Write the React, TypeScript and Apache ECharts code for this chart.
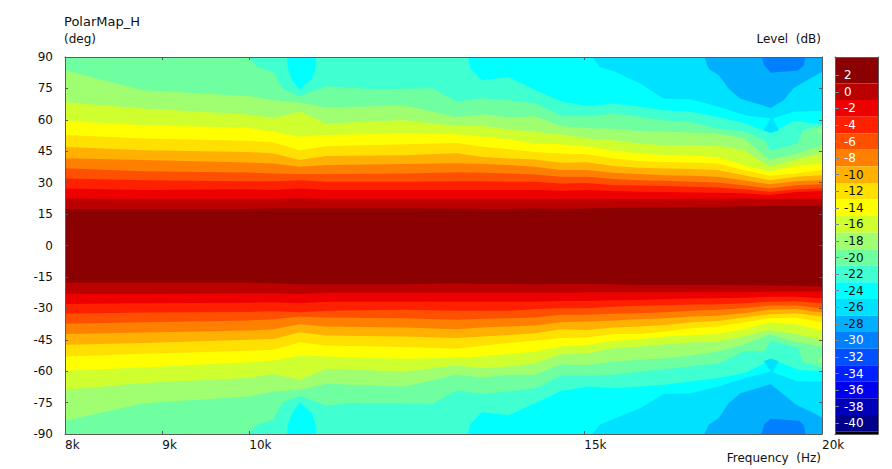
import React, { useEffect, useRef } from "react";
import * as echarts from "echarts";

const FONT = "DejaVu Sans";
const freqTicks = [8000, 9000, 10000, 15000, 20000];
const levelTicks = [2, 0, -2, -4, -6, -8, -10, -12, -14, -16, -18, -20, -22, -24, -26, -28, -30, -32, -34, -36, -38, -40];

// Frequencies (Hz) at which the contour curves were read
const freqCols = [8000, 8795, 9980, 10300, 10631, 10972, 12063, 12850, 13262, 13688, 14127, 14581, 15049, 15532, 16030, 16545, 17076, 17624, 18190, 18774, 19377, 20000];

// Angle of each level's contour, upper half (deg)
const upP1 = [17.4, 17.4, 17.4, 17.7, 17.7, 17.7, 17.7, 17.6, 17.4, 17.4, 17.7, 17.4, 17.7, 18, 18, 18.2, 18.4, 18.5, 18.7, 18.8, 18.8, 19];
const upM1 = [22.5, 22.2, 22.2, 22.2, 22.6, 22.2, 22.2, 22.2, 22.2, 22.2, 22.2, 22.2, 22.2, 22.2, 22.2, 22.2, 22.3, 22.3, 22.5, 22.2, 22.5, 22.2];
const upM3 = [27.2, 26.5, 26.8, 26.5, 27.2, 26.5, 26.5, 26.5, 26.5, 26.5, 26.5, 26.1, 26.5, 26, 25.7, 25.5, 25.3, 25.2, 24.9, 24.1, 25.5, 26];
const upM5 = [32, 31.1, 30.7, 30.7, 31.2, 30.4, 30.4, 30.7, 30.7, 30.4, 30.4, 29.6, 29.9, 28.8, 28.7, 28.4, 28, 27.7, 26.8, 25.7, 26.9, 27.2];
const upM7 = [36.9, 35.5, 34.9, 34.4, 34.1, 34.1, 34.4, 35, 34.7, 34.4, 33.9, 32.8, 32.8, 31.7, 31.2, 30.9, 30.4, 30.1, 28.8, 27.2, 28.8, 29.2];
const upM9 = [41.7, 40.8, 39.6, 39.2, 37.6, 38.4, 38.9, 39.3, 38.9, 38.4, 37.6, 36, 36, 34.7, 34.1, 33.6, 33.3, 32.8, 31.2, 29.2, 30.7, 31.2];
const upM11 = [47, 45.5, 44.7, 43.9, 40.8, 42.7, 43.1, 44.1, 42.3, 41.5, 41.1, 39.5, 39.8, 38, 37.1, 36.8, 36.5, 36, 33.6, 31.2, 32.8, 33.6];
const upM13 = [52.7, 51.1, 50, 49.2, 45.5, 47.4, 48.4, 48.9, 47.1, 46, 44.7, 43.9, 43.6, 41.5, 40.4, 39.9, 39.6, 39.2, 36, 33.3, 34.4, 36];
const upM15 = [59.4, 57.4, 56.2, 54.3, 51.9, 52.7, 53.6, 53.1, 51.9, 50.6, 48.7, 48.4, 47.1, 45.2, 43.9, 43.1, 42.8, 42.3, 38.4, 35.2, 37.9, 39.2];
const upM17 = [68.4, 65.4, 62.5, 60.9, 63.8, 58.2, 59.8, 57.1, 57, 55.4, 54.3, 53, 51.1, 50.3, 48.7, 47.9, 47.9, 47.6, 45.5, 37.6, 41.1, 43.9];
const upM19 = [83.5, 74.1, 71.4, 69.4, 68.1, 65.9, 66.8, 61.3, 62.7, 61.1, 61.7, 57.1, 56, 55.8, 54.7, 54.3, 53.9, 53.5, 51.1, 41.1, 43.6, 47.9];

// Angle of each level's contour, lower half (deg)
const loP1 = [-17.7, -17.7, -17.7, -18, -18.5, -18.5, -18.5, -18, -18.4, -18.4, -18.5, -18.4, -18.4, -18.5, -18.8, -18.8, -18.8, -18.8, -19, -19.1, -19.3, -19.6];
const loM1 = [-23.1, -23.1, -22.8, -22.8, -23.1, -22.5, -22.5, -22.5, -22.5, -22.5, -22.5, -22.5, -22.3, -22.3, -22.3, -22.3, -22.3, -22.3, -22.3, -22, -22, -22];
const loM3 = [-27.9, -27.6, -27.3, -27.1, -27.6, -26.8, -26.8, -26.8, -26.8, -26.8, -26.8, -26.5, -26.5, -26.1, -26, -25.7, -25.3, -25.2, -24.9, -24.5, -24.5, -25.2];
const loM5 = [-32.6, -32, -31.7, -31.4, -31.9, -31.2, -30.7, -31.1, -31.1, -31.1, -30.4, -30, -30, -29.3, -28.8, -28.5, -28.2, -28, -27.6, -26.8, -26.6, -27.6];
const loM7 = [-37.4, -36.6, -35.8, -35.2, -33.9, -34.4, -34.7, -35.5, -35, -34.7, -34.4, -33.1, -33.1, -32.6, -32.3, -31.9, -31.2, -30.7, -30, -28.7, -28.7, -30];
const loM9 = [-42.2, -41.5, -40.6, -40, -37.6, -38.7, -39.2, -40, -39.2, -38.7, -38.2, -36.6, -36.3, -35.8, -35.2, -34.7, -33.9, -33.6, -32.3, -30.7, -30.3, -32];
const loM11 = [-47.4, -46.6, -45, -44.6, -41.4, -43, -43.4, -44.2, -43.4, -42.7, -41.9, -40, -40.3, -39.2, -38.7, -37.9, -36.6, -36, -34.4, -32.8, -32.3, -33.9];
const loM13 = [-53, -51.7, -50.3, -49.8, -46.2, -47.7, -48.5, -49.3, -47.7, -46.6, -45.5, -44.2, -43.9, -42.2, -42.2, -41.1, -39.5, -38.7, -36.6, -34.7, -34.4, -36.6];
const loM15 = [-59.7, -58.2, -55.7, -54.9, -52.5, -53, -54.1, -53.5, -53, -51.7, -50.6, -48.2, -47.4, -45.5, -44.6, -43.4, -42.7, -42.2, -40, -36.6, -37.6, -40.6];
const loM17 = [-68.9, -65.7, -63.3, -61.3, -64.1, -58.9, -60.2, -57.3, -58.6, -57.8, -56.2, -51.9, -51.4, -49, -48.2, -47.1, -46.2, -45.9, -43.4, -40.3, -42.2, -45];
const loM19 = [-83.7, -75.3, -72.1, -69.7, -68.9, -66, -67.3, -61.7, -63, -61.7, -61.7, -56.7, -57, -55.4, -54.6, -53.8, -52.5, -50.6, -47.4, -42.4, -45.9, -48.2];

// Closed contours as [Hz, deg]
const plotCorners = [[8000, 90], [20000, 90], [20000, -90], [8000, -90]];
const contourM21 = [
  [8000, 90], [9993, 90], [10096, 85.2], [10298, 82.9], [10405, 74.9], [10510, 73.3], [10630, 71.3], [10978, 76], [11302, 75.2], [11697, 74.6], [12477, 75.1], [12860, 68.7], [13255, 70.3], [13689, 69.4], [14138, 67.8], [14602, 61.7], [15081, 61.7], [15543, 63], [16054, 61.4], [16513, 59.8], [17055, 59], [17650, 55.8], [18230, 54.3], [18654, 50.3], [18800, 45.2], [19421, 48.7], [19525, 54.3], [19562, 55], [20000, 57.4],
  [20000, -58.2], [19525, -55.4], [19445, -49], [18800, -45.5], [18654, -50.6], [18230, -50.3], [17650, -56.2], [17055, -57.8], [16054, -60.1], [15543, -61.7], [15081, -62.2], [14590, -62.2], [14138, -68.1], [13689, -69.7], [13255, -70.8], [12850, -69.4], [12477, -75.5], [11302, -75.2], [10978, -76.5], [10630, -71.9], [10510, -73.6], [10405, -75.2], [10298, -82.9], [10096, -85.6], [9993, -90], [8000, -90],
];
const cyanIslandTop = [[10469, 90], [10476, 84.4], [10532, 78.9], [10630, 74.4], [10790, 79.7], [10834, 84.4], [10840, 90]];
const cyanIslandBottom = [[10469, -90], [10476, -85.6], [10532, -80], [10630, -74.9], [10790, -80.3], [10834, -85.6], [10840, -90]];
const cyanTop = [[13032, 90], [13068, 84.4], [13255, 78.9], [13689, 80.5], [14138, 74.1], [14602, 68.6], [15081, 66.6], [15532, 67.8], [16054, 66.2], [16513, 64.6], [17055, 63.8], [17650, 61.4], [18230, 58.2], [18800, 53.5], [19327, 59.5], [20000, 57.9], [20000, 90]];
const cyanBottom = [[13032, -90], [13068, -85.2], [13255, -79.5], [13689, -81.1], [14138, -75.2], [14602, -69.4], [15081, -67.3], [15543, -68.1], [16054, -67.3], [16513, -66.5], [17055, -64.9], [17650, -63.3], [18230, -60.9], [18654, -56.2], [18800, -54.1], [19421, -59.3], [20000, -60.1], [20000, -90]];
const skyTop = [[15142, 90], [15282, 85.2], [15543, 83.2], [16054, 77.3], [16513, 70.1], [17055, 69.8], [17650, 66.2], [18230, 62.2], [18796, 60.6], [18637, 55], [18796, 53.8], [18979, 55], [18842, 60.6], [19327, 63.8], [20000, 64.3], [20000, 90]];
const skyBottom = [[15142, -90], [15282, -85.6], [15733, -80.8], [16054, -77.6], [16513, -70.9], [17055, -70.5], [17650, -67.3], [18230, -63.3], [18654, -60.9], [18796, -60.1], [18637, -55.1], [18796, -54.1], [18979, -55.1], [18842, -60.5], [19421, -64.9], [20000, -64.9], [20000, -90]];
const azureTop = [[17346, 90], [17437, 84.4], [17650, 81.3], [17864, 74.9], [18118, 70.1], [18796, 65.7], [19093, 69.4], [19327, 75.2], [19642, 78.9], [20000, 82.9], [20000, 90]];
const azureBottom = [[17346, -90], [17437, -85.6], [17650, -82.4], [17864, -75.2], [18118, -70.5], [18796, -66.2], [19100, -71.3], [19380, -76], [19720, -79.2], [20000, -82.1], [20000, -90]];
const blueTop = [[18585, 90], [18654, 86], [18796, 82.5], [19421, 83.6], [19562, 86], [19603, 90]];
const blueBottom = [[18585, -90], [18654, -85.2], [18800, -82.7], [19445, -83.7], [19562, -85.6], [19603, -90]];
const wedgeTop = [[19896, 54.7], [20000, 55.8], [20000, 52.7]];
const wedgeBottom = [[19896, -55.4], [20000, -53], [20000, -56.2]];

// Colour bar: band edges (dB), top to bottom, and one colour per band
const bandEdges = [4.2, 1, -1, -3, -5, -7, -9, -11, -13, -15, -17, -19, -21, -23, -25, -27, -29, -31, -33, -35, -37, -39, -41, -41.3];
const bandColors = ["#8b0000", "#bb0000", "#ee0000", "#ff2000", "#ff5000", "#ff8000", "#ffb000", "#ffe000", "#ffff00", "#d0ff30", "#a0ff70", "#70ffa0", "#40ffd0", "#00ffff", "#00e0ff", "#00b0ff", "#0080ff", "#0050ff", "#0020ff", "#0000ee", "#0000bb", "#00008b", "#000000"];

const lg = (f: number) => Math.log10(f);

function band(up: number[], lo: number[]) {
  const a = freqCols.map((f, i) => [f, up[i]]);
  const b = freqCols.map((f, i) => [f, lo[i]]).reverse();
  return [...a, ...b];
}

const shapes: { pts: number[][]; color: string }[] = [
  { pts: plotCorners, color: bandColors[12] },
  { pts: cyanIslandTop, color: bandColors[13] },
  { pts: cyanIslandBottom, color: bandColors[13] },
  { pts: cyanTop, color: bandColors[13] },
  { pts: cyanBottom, color: bandColors[13] },
  { pts: skyTop, color: bandColors[14] },
  { pts: skyBottom, color: bandColors[14] },
  { pts: azureTop, color: bandColors[15] },
  { pts: azureBottom, color: bandColors[15] },
  { pts: blueTop, color: bandColors[16] },
  { pts: blueBottom, color: bandColors[16] },
  { pts: contourM21, color: bandColors[11] },
  { pts: wedgeTop, color: bandColors[10] },
  { pts: wedgeBottom, color: bandColors[10] },
  { pts: band(upM19, loM19), color: bandColors[10] },
  { pts: band(upM17, loM17), color: bandColors[9] },
  { pts: band(upM15, loM15), color: bandColors[8] },
  { pts: band(upM13, loM13), color: bandColors[7] },
  { pts: band(upM11, loM11), color: bandColors[6] },
  { pts: band(upM9, loM9), color: bandColors[5] },
  { pts: band(upM7, loM7), color: bandColors[4] },
  { pts: band(upM5, loM5), color: bandColors[3] },
  { pts: band(upM3, loM3), color: bandColors[2] },
  { pts: band(upM1, loM1), color: bandColors[1] },
  { pts: band(upP1, loP1), color: bandColors[0] },
];

const frame = "#5a5a5a";
const textColor = "#111";
const frameLine = { show: true, onZero: false, lineStyle: { color: frame } };

export default function App() {
  const ref = useRef<HTMLDivElement>(null);
  useEffect(() => {
    document.body.style.margin = "0";
    document.body.style.background = "#fff";
    const chart = echarts.init(ref.current!, undefined, { renderer: "svg" });
    const xMin = lg(freqTicks[0]);
    const xMax = lg(freqTicks[freqTicks.length - 1]);
    const xLabel = {
      customValues: freqTicks.map(lg),
      formatter: (v: number) => Math.round(Math.pow(10, v) / 1000) + "k",
      align: "left" as const,
      color: textColor,
      fontFamily: FONT,
      fontSize: 12,
      margin: 5,
    };
    const tick = { show: true, inside: true, length: 3, lineStyle: { color: frame } };
    chart.setOption({
      animation: false,
      grid: [
        { left: 65, top: 57, width: 757, height: 377 },
        { left: 835, top: 57, width: 43, height: 377 },
      ],
      xAxis: [
        { type: "value", gridIndex: 0, min: xMin, max: xMax, z: 10, position: "bottom", splitLine: { show: false }, axisLine: frameLine, axisTick: { ...tick, customValues: freqTicks.map(lg) }, axisLabel: xLabel },
        { type: "value", gridIndex: 0, min: xMin, max: xMax, z: 10, position: "top", splitLine: { show: false }, axisLine: frameLine, axisTick: { ...tick, customValues: freqTicks.map(lg) }, axisLabel: { show: false } },
        { type: "value", gridIndex: 1, min: 0, max: 1, z: 10, position: "bottom", splitLine: { show: false }, axisLine: frameLine, axisTick: { show: false }, axisLabel: { show: false } },
        { type: "value", gridIndex: 1, min: 0, max: 1, z: 10, position: "top", splitLine: { show: false }, axisLine: frameLine, axisTick: { show: false }, axisLabel: { show: false } },
      ],
      yAxis: [
        { type: "value", gridIndex: 0, min: -90, max: 90, interval: 15, z: 10, position: "left", splitLine: { show: false }, axisLine: frameLine, axisTick: tick, axisLabel: { color: textColor, fontFamily: FONT, fontSize: 12, margin: 12 } },
        { type: "value", gridIndex: 0, min: -90, max: 90, interval: 15, z: 10, position: "right", splitLine: { show: false }, axisLine: frameLine, axisTick: tick, axisLabel: { show: false } },
        {
          type: "value", gridIndex: 1, min: bandEdges[bandEdges.length - 1], max: bandEdges[0], z: 10, position: "left", splitLine: { show: false },
          axisLine: frameLine,
          axisTick: { show: true, inside: true, length: 4, customValues: levelTicks, lineStyle: { color: "#6a8a9a" } },
          axisLabel: {
            inside: true, margin: 9, align: "left", fontFamily: FONT, fontSize: 12,
            customValues: levelTicks,
            color: (v: any) => (Number(v) >= -8 || Number(v) <= -30 ? "#fff" : "#111"),
          },
        },
        { type: "value", gridIndex: 1, min: bandEdges[bandEdges.length - 1], max: bandEdges[0], z: 10, position: "right", splitLine: { show: false }, axisLine: frameLine, axisTick: { show: false }, axisLabel: { show: false } },
      ],
      series: [
        {
          type: "custom",
          xAxisIndex: 0,
          yAxisIndex: 0,
          silent: true,
          data: shapes.map((s) => [lg(s.pts[0][0]), s.pts[0][1]]),
          renderItem: (params: any, api: any) => {
            const s = shapes[params.dataIndex];
            return {
              type: "polygon",
              shape: { points: s.pts.map((p) => api.coord([lg(p[0]), p[1]])) },
              style: { fill: s.color },
            };
          },
        },
        {
          type: "custom",
          xAxisIndex: 2,
          yAxisIndex: 2,
          silent: true,
          data: bandColors.map((_, i) => [0, bandEdges[i]]),
          renderItem: (params: any, api: any) => {
            const i = params.dataIndex;
            const a = api.coord([0, bandEdges[i]]);
            const b = api.coord([1, bandEdges[i + 1]]);
            return {
              type: "rect",
              shape: { x: a[0], y: a[1], width: b[0] - a[0], height: b[1] - a[1] },
              style: { fill: bandColors[i] },
            };
          },
        },
      ],
      graphic: [
        { type: "text", left: 64, top: 15, style: { text: "PolarMap_H", fill: textColor, font: `13px "${FONT}"` } },
        { type: "text", left: 64, top: 33, style: { text: "(deg)", fill: textColor, font: `12px "${FONT}"` } },
        { type: "text", right: 71, top: 33, style: { text: "Level  (dB)", fill: textColor, font: `12px "${FONT}"` } },
        { type: "text", right: 71, top: 452, style: { text: "Frequency  (Hz)", fill: textColor, font: `12px "${FONT}"` } },
      ],
    });
    return () => chart.dispose();
  }, []);
  return <div ref={ref} style={{ width: 892, height: 469, position: "absolute", left: 0, top: 0 }} />;
}
